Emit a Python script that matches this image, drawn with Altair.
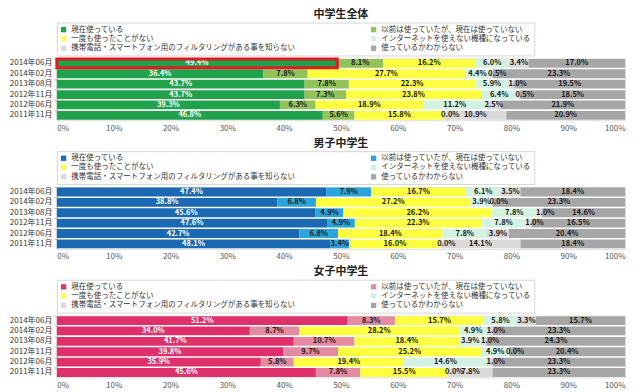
import altair as alt
import pandas as pd

FONT = "Noto Sans CJK JP"

dates = ["2014年06月", "2014年02月", "2013年08月", "2012年11月", "2012年06月", "2011年11月"]
cats = [
    "現在使っている",
    "以前は使っていたが、現在は使っていない",
    "一度も使ったことがない",
    "インターネットを使えない機種になっている",
    "携帯電話・スマートフォン用のフィルタリングがある事を知らない",
    "使っているかわからない",
]

titles = ["中学生全体", "男子中学生", "女子中学生"]

vals_all = [
    [49.4, 8.1, 16.2, 6.0, 3.4, 17.0],
    [36.4, 7.8, 27.7, 4.4, 0.5, 23.3],
    [43.7, 7.8, 22.3, 5.9, 1.0, 19.5],
    [43.7, 7.3, 23.8, 6.4, 0.5, 18.5],
    [39.3, 6.3, 18.9, 11.2, 2.5, 21.9],
    [46.8, 5.6, 15.8, 0.0, 10.9, 20.9],
]
vals_boys = [
    [47.4, 7.9, 16.7, 6.1, 3.5, 18.4],
    [38.8, 6.8, 27.2, 3.9, 0.0, 23.3],
    [45.6, 4.9, 26.2, 7.8, 1.0, 14.6],
    [47.6, 4.9, 22.3, 7.8, 1.0, 16.5],
    [42.7, 6.8, 18.4, 7.8, 3.9, 20.4],
    [48.1, 3.4, 16.0, 0.0, 14.1, 18.4],
]
vals_girls = [
    [51.2, 8.3, 15.7, 5.8, 3.3, 15.7],
    [34.0, 8.7, 28.2, 4.9, 1.0, 23.3],
    [41.7, 10.7, 18.4, 3.9, 1.0, 24.3],
    [39.8, 9.7, 25.2, 4.9, 0.0, 20.4],
    [35.9, 5.8, 19.4, 14.6, 1.0, 23.3],
    [45.6, 7.8, 15.5, 0.0, 7.8, 23.3],
]

colors_all = ["#1fa24a", "#92c35a", "#ffff3f", "#d3f2e2", "#d9d9d9", "#a6a6a6"]
colors_boys = ["#1b68b3", "#2aa5dc", "#ffff3f", "#d3f2e2", "#d9d9d9", "#a6a6a6"]
colors_girls = ["#e0306c", "#e48ba2", "#ffff3f", "#d3f2e2", "#d9d9d9", "#a6a6a6"]

highlight_date = "2014年06月"


def make_df(vals):
    rows = []
    for d, v in zip(dates, vals):
        for i, (c, x) in enumerate(zip(cats, v)):
            rows.append({"date": d, "cat": c, "order": i, "value": x, "label": f"{x:.1f}%"})
    return pd.DataFrame(rows)


def panel(vals, title, colors, highlight=False):
    df = make_df(vals)
    base = alt.Chart(df).transform_stack(
        stack="value", groupby=["date"], sort=[alt.SortField("order")],
        as_=["s0", "s1"], offset="normalize"
    ).transform_calculate(mid="(datum.s0 + datum.s1) / 2")

    y = alt.Y(
        "date:N", sort=dates, title=None,
        scale=alt.Scale(paddingInner=0.15, paddingOuter=0.05),
        axis=alt.Axis(labelFontSize=8, labelFont=FONT, labelColor="#333",
                      domainColor="#c0c0c0", tickColor="#c0c0c0", tickSize=3,
                      labelPadding=2, bandPosition=0),
    )
    xs = alt.Scale(domain=[0, 1])
    bars = base.mark_bar().encode(
        x=alt.X("s0:Q", scale=xs, title=None,
                axis=alt.Axis(format="%", values=[i / 10 for i in range(11)],
                              labelFontSize=8, labelFont=FONT, labelColor="#555",
                              domain=False, ticks=False, grid=False, labelPadding=4)),
        x2="s1:Q",
        y=y,
        color=alt.Color(
            "cat:N", scale=alt.Scale(domain=cats, range=colors),
            legend=alt.Legend(title=None, orient="top", columns=2, columnPadding=74,
                              symbolType="square", symbolSize=28, symbolStrokeWidth=0,
                              labelFontSize=7.5, labelFont=FONT, labelColor="#333",
                              rowPadding=0.5, padding=3, strokeColor="#d6d6d6",
                              labelLimit=400, offset=3),
        ),
    )
    text_enc = dict(
        x=alt.X("mid:Q", scale=xs),
        y=y,
        text="label:N",
        color=alt.condition(alt.datum.order == 0, alt.value("#ffffff"), alt.value("#1a1a1a")),
    )
    text = base.transform_filter(alt.datum.value >= 1.5).mark_text(
        fontSize=7.5, fontWeight="bold", font=FONT).encode(**text_enc)
    text_small = base.transform_filter(alt.datum.value < 1.5).mark_text(
        fontSize=7.5, fontWeight="bold", font=FONT, dx=6).encode(**text_enc)
    layers = [bars, text, text_small]
    if highlight:
        hl = base.transform_filter(
            (alt.datum.date == highlight_date) & (alt.datum.order == 0)
        ).mark_rect(filled=False, stroke="#e01b22", strokeWidth=3).encode(
            x=alt.X("s0:Q", scale=xs), x2="s1:Q", y=y
        )
        layers.append(hl)
    return alt.layer(*layers).properties(
        width=570, height=62,
        title=alt.TitleParams(title, fontSize=11, fontWeight="bold", font=FONT,
                              anchor="middle", offset=2, color="#222"),
    )


chart = alt.vconcat(
    panel(vals_all, titles[0], colors_all, highlight=True),
    panel(vals_boys, titles[1], colors_boys),
    panel(vals_girls, titles[2], colors_girls),
    spacing=4,
).resolve_scale(color="independent").properties(
    padding={"left": 0, "top": 0, "right": 6, "bottom": 0}
).configure_view(stroke=None).configure(background="white")

chart.save("out.html", embed_options={"renderer": "svg", "actions": False})
